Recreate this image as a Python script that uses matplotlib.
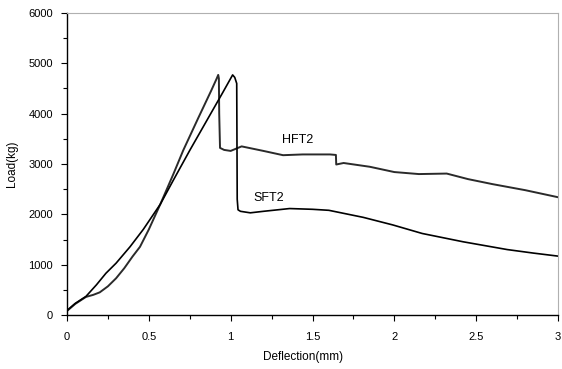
import numpy as np
import matplotlib
matplotlib.use("Agg")
import matplotlib.pyplot as plt
from matplotlib.ticker import MultipleLocator

plt.rcParams['font.family'] = ['Liberation Sans', 'DejaVu Sans']

# load-deflection curves
hft2_x = [0, 0.05, 0.116, 0.16, 0.2, 0.25, 0.3, 0.35, 0.4, 0.446, 0.5, 0.57,
          0.65, 0.71, 0.8, 0.88, 0.915, 0.924, 0.928, 0.93, 0.935, 0.96, 1.0,
          1.067, 1.2, 1.32, 1.44, 1.607, 1.643, 1.645, 1.69, 1.85, 2.0, 2.15,
          2.32, 2.45, 2.6, 2.8, 3.0]
hft2_y = [80, 220, 360, 400, 450, 570, 730, 930, 1160, 1355, 1700, 2200,
          2800, 3270, 3900, 4450, 4700, 4770, 4700, 4000, 3320, 3280, 3260,
          3350, 3260, 3175, 3190, 3190, 3180, 2990, 3020, 2945, 2840, 2800,
          2810, 2700, 2600, 2480, 2340]

sft2_x = [0, 0.05, 0.116, 0.18, 0.238, 0.3, 0.385, 0.466, 0.57, 0.65, 0.75,
          0.85, 0.95, 1.0, 1.012, 1.025, 1.037, 1.04, 1.045, 1.06, 1.12, 1.2,
          1.36, 1.5, 1.6, 1.81, 1.99, 2.17, 2.42, 2.69, 2.85, 3.0]
sft2_y = [90, 230, 370, 600, 830, 1030, 1355, 1700, 2200, 2680, 3270, 3840,
          4410, 4700, 4770, 4720, 4600, 2300, 2090, 2060, 2030, 2060, 2115,
          2100, 2080, 1940, 1790, 1620, 1455, 1300, 1230, 1170]

labels = ['HFT2', 'SFT2']
label_pos = [(1.41, 3470), (1.23, 2330)]

fig = plt.figure(figsize=(5.62, 3.69), dpi=100)
ax = fig.add_axes([0.1192, 0.1463, 0.8737, 0.8185])

ax.plot(hft2_x, hft2_y, color='#2a2a2a', lw=1.4)
ax.plot(sft2_x, sft2_y, color='black', lw=1.2)

for name, (lx, ly) in zip(labels, label_pos):
    ax.text(lx, ly, name, fontsize=9, ha='center', va='center')

ax.set_xlim(0, 3)
ax.set_ylim(0, 6000)
ax.xaxis.set_major_locator(MultipleLocator(0.5))
ax.xaxis.set_minor_locator(MultipleLocator(0.25))
ax.yaxis.set_major_locator(MultipleLocator(1000))
ax.yaxis.set_minor_locator(MultipleLocator(500))
ax.set_xticks([0, 0.5, 1, 1.5, 2, 2.5, 3])
ax.set_xticklabels(['0', '0.5', '1', '1.5', '2', '2.5', '3'])
ax.tick_params(which='both', direction='out', labelsize=8, width=0.8)
ax.tick_params(which='major', length=4, pad=6)
ax.tick_params(which='minor', length=3)
ax.tick_params(axis='x', which='major', pad=8)

for side in ['top', 'right']:
    ax.spines[side].set_color('#b0b0b0')
    ax.spines[side].set_linewidth(0.8)
for side in ['left', 'bottom']:
    ax.spines[side].set_linewidth(1.0)

ax.set_xlabel('Deflection(mm)', fontsize=8.5)
ax.set_ylabel('Load(kg)', fontsize=8.5)
ax.xaxis.set_label_coords(0.48, -0.12)
ax.yaxis.set_label_coords(-0.1, 0.5)

fig.savefig('out.png', dpi=100)
